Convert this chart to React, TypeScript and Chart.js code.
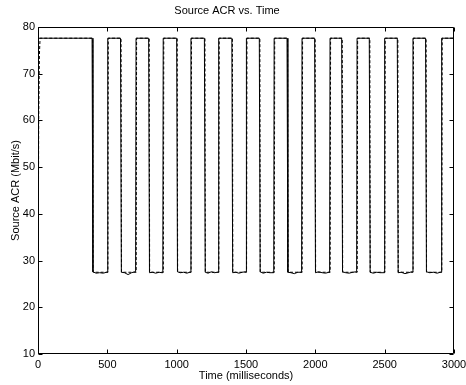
import React, { useEffect, useRef } from 'react';
import { Chart, registerables } from 'chart.js';

Chart.register(...registerables);

// ---- data ----
const xTickValues = [0, 500, 1000, 1500, 2000, 2500, 3000];
const yTickValues = [10, 20, 30, 40, 50, 60, 70, 80];

const highLevel = 77.6;
const startTimes = [0, 3];
const startValues = [10, 77.6];
const startTimesDashed = [0, 5, 10, 15];
const startValuesDashed = [10, 60, 74, 77.6];

const solidFall = [390, 595, 798, 1000, 1200, 1398, 1596, 1796, 1995, 2190, 2389, 2591, 2795];
const solidRise = [500, 704, 900, 1100, 1300, 1500, 1700, 1901, 2103, 2298, 2497, 2701, 2908];
const dashedFall = [394, 599, 802, 1004, 1204, 1402, 1600, 1800, 1999, 2194, 2393, 2595, 2799];
const dashedRise = [504, 708, 904, 1104, 1304, 1504, 1704, 1905, 2107, 2302, 2501, 2705, 2912];

// low-level readings inside each low segment (solid trace, sampled across the segment)
const lowSamplePos = [0.03, 0.25, 0.5, 0.75, 0.97];
const lowSolid = [
  [27.6, 27.3, 27.4, 27.3, 27.5],
  [27.5, 27.4, 27.0, 27.4, 27.6],
  [27.4, 27.5, 27.3, 27.5, 27.4],
  [27.6, 27.4, 27.5, 27.3, 27.5],
  [27.5, 27.3, 27.6, 27.4, 27.5],
  [27.4, 27.5, 27.3, 27.5, 27.6],
  [27.6, 27.3, 27.5, 27.4, 27.4],
  [27.5, 27.4, 27.2, 27.5, 27.5],
  [27.4, 27.6, 27.4, 27.3, 27.5],
  [27.6, 27.4, 27.3, 27.5, 27.6],
  [27.5, 27.3, 27.5, 27.4, 27.4],
  [27.4, 27.5, 27.2, 27.4, 27.6],
  [27.6, 27.4, 27.5, 27.3, 27.5],
];
const lowDashed = 27.5;
const edgeMs = 3;
const endTime = 3000;

function buildSolid() {
  const pts: { x: number; y: number }[] = [];
  startTimes.forEach((t, i) => pts.push({ x: t, y: startValues[i] }));
  solidFall.forEach((f, i) => {
    const r = solidRise[i];
    pts.push({ x: f, y: highLevel });
    lowSamplePos.forEach((p, k) => pts.push({ x: f + edgeMs + p * (r - f - 2 * edgeMs), y: lowSolid[i][k] }));
    pts.push({ x: r, y: lowSolid[i][lowSolid[i].length - 1] });
    pts.push({ x: r + edgeMs, y: highLevel });
  });
  pts.push({ x: endTime, y: highLevel });
  return pts;
}

function buildDashed() {
  const pts: { x: number; y: number }[] = [];
  startTimesDashed.forEach((t, i) => pts.push({ x: t, y: startValuesDashed[i] }));
  dashedFall.forEach((f, i) => {
    const r = dashedRise[i];
    pts.push({ x: f, y: highLevel });
    pts.push({ x: f + edgeMs, y: lowDashed });
    pts.push({ x: r, y: lowDashed });
    pts.push({ x: r + edgeMs, y: highLevel });
  });
  pts.push({ x: endTime, y: highLevel });
  return pts;
}

const FONT = 'Liberation Sans, Arial, Helvetica, sans-serif';

const boxAndTicks = {
  id: 'boxAndTicks',
  afterDraw(chart: any) {
    const { ctx, chartArea } = chart;
    const l = Math.round(chartArea.left) + 0.5;
    const r = Math.round(chartArea.right) - 0.5;
    const t = Math.round(chartArea.top) + 0.5;
    const b = Math.round(chartArea.bottom) - 0.5;
    const len = 4;
    ctx.save();
    ctx.strokeStyle = '#000';
    ctx.lineWidth = 1;
    ctx.setLineDash([]);
    ctx.beginPath();
    ctx.rect(l, t, r - l, b - t);
    const xs = chart.scales.x;
    xTickValues.forEach((v) => {
      const px = Math.round(xs.getPixelForValue(v)) + 0.5;
      ctx.moveTo(px, b);
      ctx.lineTo(px, b - len);
      ctx.moveTo(px, t);
      ctx.lineTo(px, t + len);
    });
    const ys = chart.scales.y;
    yTickValues.forEach((v) => {
      const py = Math.round(ys.getPixelForValue(v)) + 0.5;
      ctx.moveTo(l, py);
      ctx.lineTo(l + len, py);
      ctx.moveTo(r, py);
      ctx.lineTo(r - len, py);
    });
    ctx.stroke();
    ctx.restore();
  },
};

export default function App() {
  const ref = useRef<HTMLCanvasElement>(null);
  useEffect(() => {
    if (!ref.current) return;
    const chart = new Chart(ref.current, {
      type: 'line',
      data: {
        datasets: [
          {
            label: 'solid',
            data: buildSolid(),
            borderColor: '#000',
            borderWidth: 1,
            pointRadius: 0,
            tension: 0,
          },
          {
            label: 'dashed',
            data: buildDashed(),
            borderColor: '#000',
            borderWidth: 1,
            borderDash: [3, 2],
            pointRadius: 0,
            tension: 0,
          },
        ],
      },
      options: {
        responsive: false,
        animation: false,
        layout: { padding: { top: 0, right: 12, bottom: 0, left: 0 } },
        plugins: {
          legend: { display: false },
          tooltip: { enabled: false },
          title: {
            display: true,
            text: 'Source ACR vs. Time',
            color: '#000',
            font: { family: FONT, size: 11, weight: 'normal' },
            padding: { top: 4, bottom: 9.8 },
          },
        },
        scales: {
          x: {
            type: 'linear',
            min: 0,
            max: 3000,
            afterBuildTicks: (s: any) => {
              s.ticks = xTickValues.map((v) => ({ value: v }));
            },
            afterFit: (s: any) => {
              s.height = 31;
              s.paddingLeft = 0;
              s.paddingRight = 0;
            },
            grid: { display: false, drawTicks: false },
            border: { display: false },
            ticks: {
              color: '#000',
              font: { family: FONT, size: 11 },
              padding: 4,
              maxRotation: 0,
              autoSkip: false,
              callback: (v: any) => String(v),
            },
            title: {
              display: true,
              text: 'Time (milliseconds)',
              color: '#000',
              font: { family: FONT, size: 11 },
              padding: { top: 0, bottom: 2 },
            },
          },
          y: {
            type: 'linear',
            min: 10,
            max: 80,
            afterBuildTicks: (s: any) => {
              s.ticks = yTickValues.map((v) => ({ value: v }));
            },
            afterFit: (s: any) => {
              s.width = 38;
              s.paddingTop = 0;
              s.paddingBottom = 0;
            },
            grid: { display: false, drawTicks: false },
            border: { display: false },
            ticks: {
              color: '#000',
              font: { family: FONT, size: 11 },
              padding: 3,
              autoSkip: false,
              callback: (v: any) => String(v),
            },
            title: {
              display: true,
              text: 'Source ACR (Mbit/s)',
              color: '#000',
              font: { family: FONT, size: 11 },
              padding: { top: 9, bottom: 0 },
            },
          },
        },
      },
      plugins: [boxAndTicks],
    } as any);
    return () => chart.destroy();
  }, []);
  return (
    <div style={{ position: 'fixed', left: 0, top: 0, width: 466, height: 385, background: '#fff' }}>
      <canvas ref={ref} width={466} height={385} style={{ display: 'block', width: 466, height: 385 }} />
    </div>
  );
}
